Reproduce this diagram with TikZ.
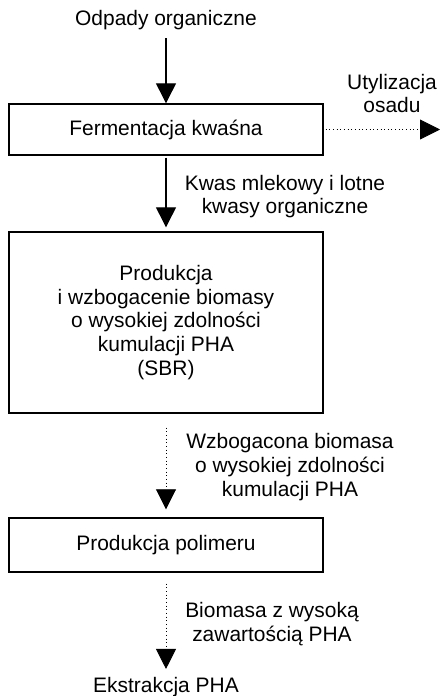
\documentclass[tikz,border=0pt]{standalone}
\usepackage{fontspec}
\setmainfont{Liberation Sans}
\usetikzlibrary{positioning}
\usetikzlibrary{arrows.meta}

\begin{document}
\begin{tikzpicture}[
    font=\fontsize{14.9}{16.8}\selectfont,
    stage/.style={draw, line width=1pt, minimum width=7.85cm, align=center, inner sep=0pt},
    txt/.style={align=center, inner sep=0pt},
    flow/.style={line width=0.9pt, -{Triangle[width=0.5cm, length=0.5cm]}},
    dflow/.style={dotted, line width=0.6pt, -{Triangle[width=0.5cm, length=0.5cm]}}
]
    \useasboundingbox (0,0) rectangle (11,-17.4);

    % wejscie
    \node[txt] (odpady) at (4.15, -0.5) {Odpady organiczne};
    % Fermentacja
    \node[stage, minimum height=1.275cm] (ferm) at (4.15, -3.2375) {Fermentacja kwaśna};
    \coordinate (wyjscie) at (11, -3.2375);
    \node[txt] (osad) at (9.8, -2.34) {Utylizacja\\osadu};
    % SBR
    \node[stage, minimum height=4.525cm] (sbr) at (4.15, -8.0625)
        {Produkcja\\i wzbogacenie biomasy\\o wysokiej zdolności\\kumulacji PHA\\(SBR)};
    \node[txt] (kwasy) at (7.125, -4.91) {Kwas mlekowy i lotne\\kwasy organiczne};
    % Polimer
    \node[stage, minimum height=1.35cm] (polimer) at (4.15, -13.625) {Produkcja polimeru};
    \node[txt] (biomasa) at (7.25, -11.675) {Wzbogacona biomasa\\o wysokiej zdolności\\kumulacji PHA};
    % Ekstrakcja
    \node[txt] (ekstr) at (4.15, -17.175) {Ekstrakcja PHA};
    \node[txt] (zawart) at (6.8, -15.6) {Biomasa z wysoką\\zawartością PHA};

    \draw[flow, shorten <=0.2cm] (odpady) -- (ferm);
    \draw[dflow, shorten <=0.05cm] (ferm.east) -- (wyjscie);
    \draw[flow, shorten <=0.05cm, shorten >=0.1cm] (ferm) -- (sbr);
    \draw[dflow, shorten <=0.35cm, shorten >=0.2cm] (sbr) -- (polimer);
    \draw[dflow, shorten <=0.275cm, shorten >=0.2cm] (polimer) -- (ekstr);
\end{tikzpicture}
\end{document}
